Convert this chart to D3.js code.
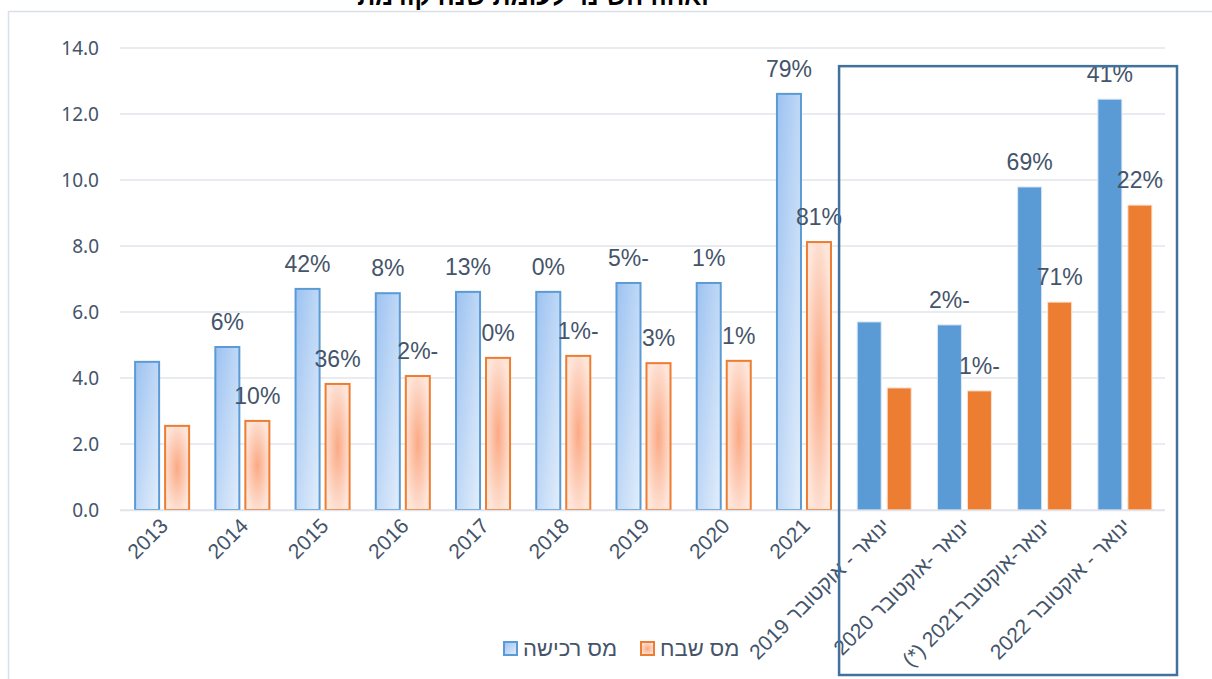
<!DOCTYPE html>
<html><head><meta charset="utf-8">
<script src="https://cdn.jsdelivr.net/npm/d3@7/dist/d3.min.js"></script>
<style>html,body{margin:0;padding:0;background:#fff;}svg{display:block;}</style>
</head><body>
<svg id="c" width="1212" height="679"></svg>
<script>
const categories = ["2013","2014","2015","2016","2017","2018","2019","2020","2021",
  "ינואר - אוקטובר 2019","ינואר -אוקטובר 2020","ינואר-אוקטובר2021 (*)","ינואר - אוקטובר 2022"];
const purchaseTax = [4.52,4.97,6.73,6.60,6.64,6.64,6.91,6.91,12.64,5.73,5.64,9.82,12.48];
const gainsTax    = [2.58,2.73,3.85,4.09,4.64,4.70,4.48,4.55,8.15,3.73,3.64,6.33,9.27];
const purchaseChange = [null,6,42,8,13,0,-5,1,79,null,-2,69,41];
const gainsChange    = [null,10,36,-2,0,-1,3,1,81,null,-1,71,22];
const yTicks = [0,2,4,6,8,10,12,14];
const seriesNames = ["מס רכישה","מס שבח"];
const titleText = "ואחוז השינוי לעומת שנה קודמת";
const highlightFrom = 9; // first Jan-Oct category

const svg = d3.select("#c");
const defs = svg.append("defs");
const lg = defs.append("linearGradient").attr("id","gBlue").attr("x1",0).attr("y1",0).attr("x2",1).attr("y2",1);
lg.append("stop").attr("offset",0).attr("stop-color","#9cc2f1");
lg.append("stop").attr("offset",1).attr("stop-color","#e3eefb");
const rg = defs.append("radialGradient").attr("id","gOrange").attr("cx",0.5).attr("cy",0.5).attr("r",0.55);
rg.append("stop").attr("offset",0).attr("stop-color","#fba984");
rg.append("stop").attr("offset",1).attr("stop-color","#fee5da");

const textCol = "#44546a";
// chart outer border
svg.append("path").attr("d","M8.5,679 V11.5 H1212").attr("fill","none").attr("stroke","#d9dfe8").attr("stroke-width",1.5);

// title (partly cut at top, as in the source)
svg.append("text").attr("x",533).attr("y",5).attr("text-anchor","middle")
  .attr("font-family","Liberation Sans, Arial, sans-serif").attr("font-weight","bold").attr("font-size",25)
  .attr("fill","#000").text(titleText);

const x = d3.scaleBand().domain(categories).range([122,1165]).paddingInner(0).paddingOuter(0);
const x1 = d3.scaleBand().domain(["p","g"]).range([0,x.bandwidth()]).paddingInner(0.133).paddingOuter(0.403);
const y = d3.scaleLinear().domain([0,14]).range([510,48]);

// gridlines
svg.append("g").selectAll("line").data(yTicks).join("line")
  .attr("x1",120).attr("x2",1165).attr("y1",d=>y(d)).attr("y2",d=>y(d))
  .attr("stroke","#e1e4ea").attr("stroke-width",1.5);

// y tick labels
svg.append("g").selectAll("text").data(yTicks).join("text")
  .attr("x",99).attr("y",d=>y(d)).attr("dy","0.36em").attr("text-anchor","end")
  .attr("font-family","Noto Sans, Open Sans, sans-serif").attr("font-size",19).attr("fill",textCol)
  .text(d=>d.toFixed(1));

const rows = categories.map((c,i)=>({c,i,p:purchaseTax[i],g:gainsTax[i],pc:purchaseChange[i],gc:gainsChange[i],solid:i>=highlightFrom}));

// bars
const bars = svg.append("g");
bars.selectAll("rect.p").data(rows).join("rect")
  .attr("x",d=>x(d.c)+x1("p")+1).attr("width",x1.bandwidth()-2)
  .attr("y",d=>y(d.p)+1).attr("height",d=>y(0)-y(d.p)-1)
  .attr("fill",d=>d.solid?"#5b9bd5":"url(#gBlue)")
  .attr("stroke",d=>d.solid?"#dbe8f6":"#5b9bd5").attr("stroke-width",d=>d.solid?1:2);
bars.selectAll("rect.g").data(rows).join("rect")
  .attr("x",d=>x(d.c)+x1("g")+1).attr("width",x1.bandwidth()-2)
  .attr("y",d=>y(d.g)+1).attr("height",d=>y(0)-y(d.g)-1)
  .attr("fill",d=>d.solid?"#ed7d31":"url(#gOrange)")
  .attr("stroke",d=>d.solid?"#fbe2d3":"#ed7d31").attr("stroke-width",d=>d.solid?1:2);

// baseline
svg.append("line").attr("x1",120).attr("x2",1165).attr("y1",y(0)+0.5).attr("y2",y(0)+0.5).attr("stroke","#e1e4ea").attr("stroke-width",1.5);

// value labels
const fmt = v => Math.abs(v)+"%"+(v<0?"-":"");
const lab = svg.append("g").attr("font-family","Liberation Sans, Arial, sans-serif").attr("font-size",23).attr("fill",textCol).attr("text-anchor","middle");
lab.selectAll("text.p").data(rows.filter(d=>d.pc!==null)).join("text")
  .attr("x",d=>x(d.c)+x1("p")+x1.bandwidth()/2).attr("y",d=>y(d.p)-16).text(d=>fmt(d.pc));
lab.selectAll("text.g").data(rows.filter(d=>d.gc!==null)).join("text")
  .attr("x",d=>x(d.c)+x1("g")+x1.bandwidth()/2).attr("y",d=>y(d.g)-16).text(d=>fmt(d.gc));

// x labels
svg.append("g").selectAll("text").data(categories).join("text")
  .attr("transform",d=>`translate(${x(d)+x.bandwidth()/2+2},${y(0)+12}) rotate(-45)`)
  .attr("text-anchor","end").attr("dy","0.35em")
  .attr("font-family","Liberation Sans, Arial, sans-serif").attr("font-size",21).attr("fill",textCol)
  .text(d=>/[\u0590-\u05FF]/.test(d) ? "\u202B"+d+"\u202C" : d);

// highlight box around Jan-Oct categories
const bx0 = x(categories[highlightFrom])-5, bx1 = x(categories[categories.length-1])+x.bandwidth()+12;
svg.append("rect").attr("x",bx0).attr("y",y(13.45)).attr("width",bx1-bx0).attr("height",675-y(13.45))
  .attr("fill","none").attr("stroke","#41719c").attr("stroke-width",2.5);

// legend
const leg = svg.append("g").attr("font-family","Liberation Sans, Arial, sans-serif").attr("font-size",22).attr("fill",textCol);
const legItems = [{n:seriesNames[0],f:"url(#gBlue)",s:"#5b9bd5",sx:504,tx:523},{n:seriesNames[1],f:"url(#gOrange)",s:"#ed7d31",sx:641,tx:660}];
legItems.forEach(it=>{
  leg.append("rect").attr("x",it.sx).attr("y",642).attr("width",13).attr("height",13).attr("fill",it.f).attr("stroke",it.s).attr("stroke-width",2);
  leg.append("text").attr("x",it.tx).attr("y",656).text(it.n);
});
</script>
</body></html>
